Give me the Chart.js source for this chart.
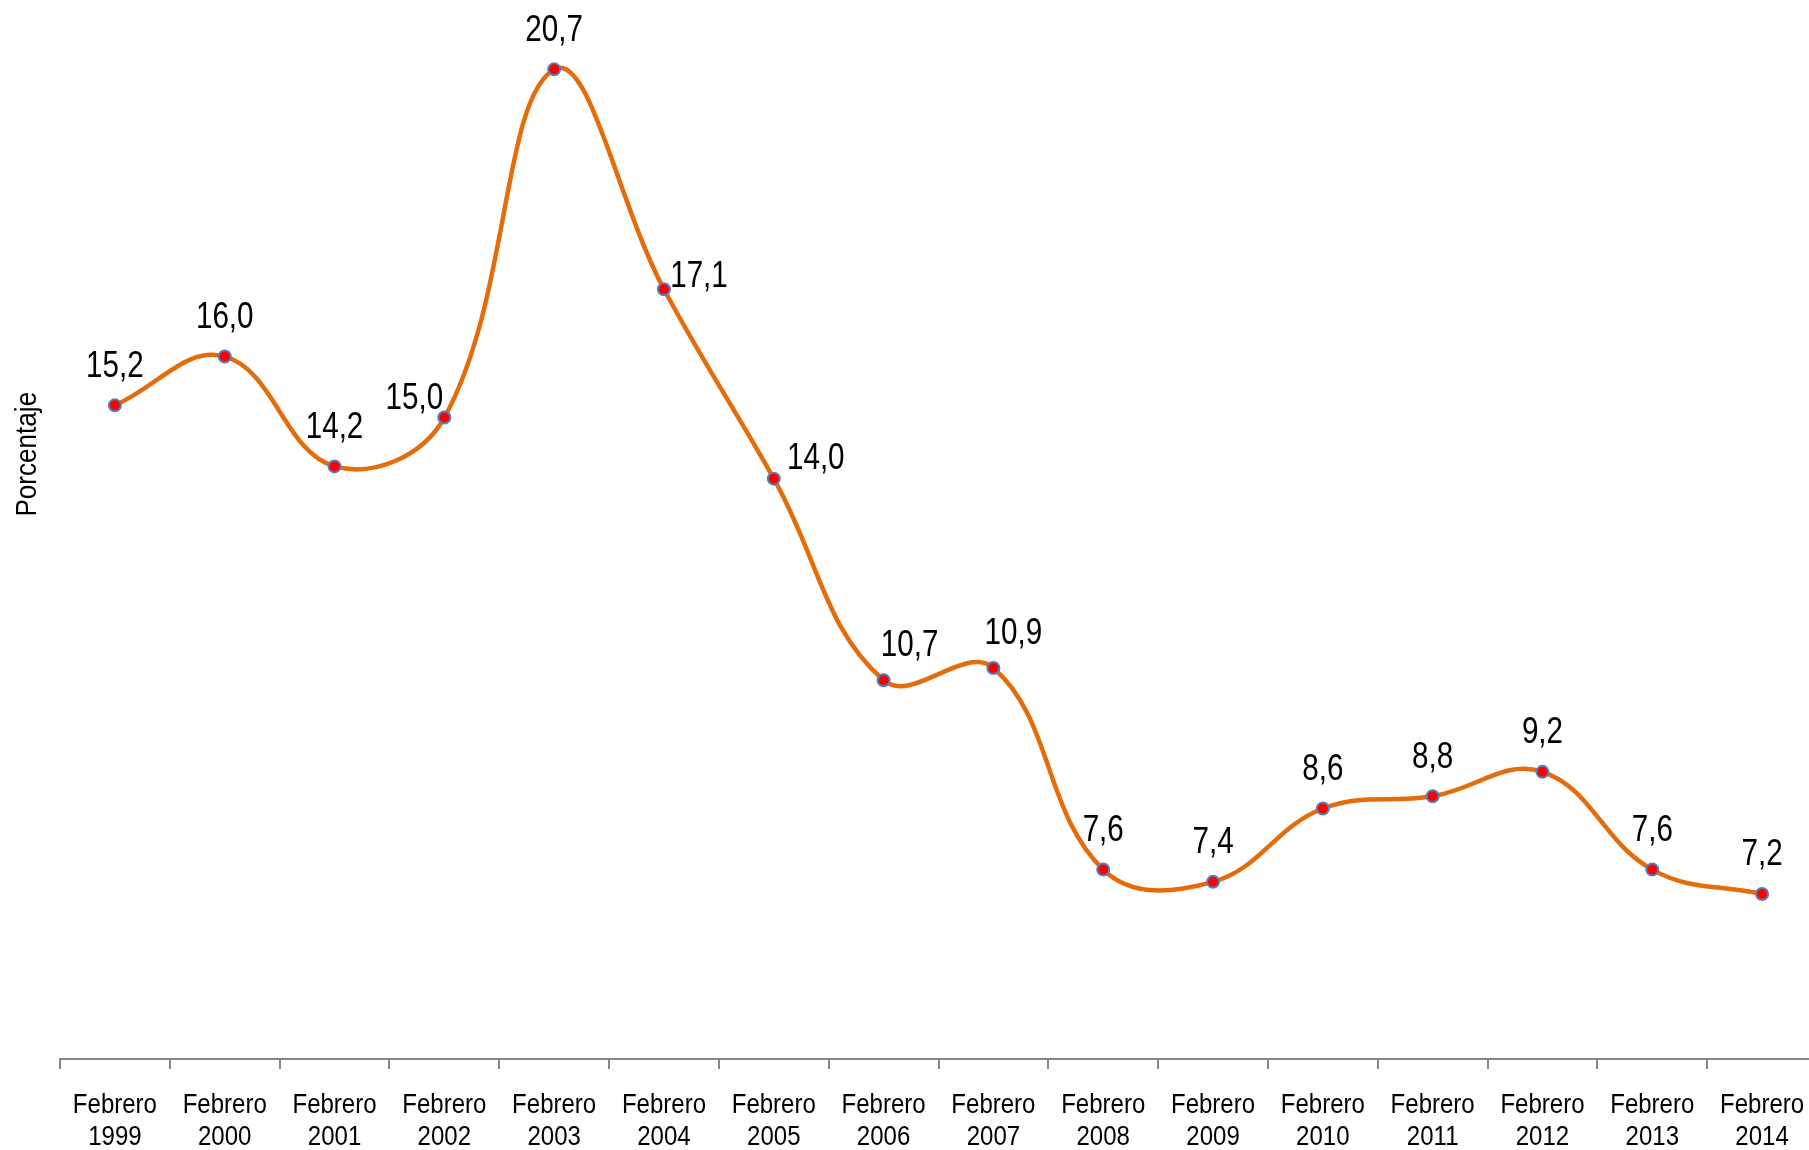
<!DOCTYPE html>
<html>
<head>
<meta charset="utf-8">
<title>Porcentaje Febrero 1999-2014</title>
<script src="https://cdn.jsdelivr.net/npm/chart.js@4"></script>
<style>
    body { margin: 0; background: #fff; }
    #wrap { width: 1809px; height: 1150px; overflow: hidden; }
</style>
</head>
<body>
<!-- plot runs a little past the right edge, like the original -->
<div id="wrap"><canvas id="lineChart" width="1817" height="1150"></canvas></div>
<script>
const years = ["1999", "2000", "2001", "2002", "2003", "2004", "2005", "2006",
               "2007", "2008", "2009", "2010", "2011", "2012", "2013", "2014"];
const categories = years.map(y => ["Febrero", y]);
const values = [15.2, 16.0, 14.2, 15.0, 20.7, 17.1, 14.0, 10.7,
                10.9, 7.6, 7.4, 8.6, 8.8, 9.2, 7.6, 7.2];

// where each value label sits relative to its point
const labelOffsets = [
    [0, -39], [0, -39], [0, -39], [-30, -19], [0, -39], [35, -12], [42, -20], [26, -34],
    [20, -34], [0, -39], [0, -39], [0, -39], [0, -39], [0, -39], [0, -39], [0, -39]
];

const FONT = "'Liberation Sans', Arial, sans-serif";

// narrow text: no condensed Arial here, so squeeze it horizontally
function drawNarrow(ctx, txt, x, y, size, squeeze) {
    ctx.save();
    ctx.translate(x, y);
    ctx.scale(squeeze, 1);
    ctx.font = size + "px " + FONT;
    ctx.fillText(txt, 0, 0);
    ctx.restore();
}

// Draw value labels with comma decimals
const valueLabels = {
    id: "valueLabels",
    afterDatasetsDraw(chart) {
        const ctx = chart.ctx;
        const meta = chart.getDatasetMeta(0);
        ctx.save();
        ctx.fillStyle = "#000";
        ctx.textAlign = "center";
        ctx.textBaseline = "middle";
        meta.data.forEach((pt, i) => {
            const txt = values[i].toFixed(1).replace(".", ",");
            const off = labelOffsets[i];
            drawNarrow(ctx, txt, pt.x + off[0], pt.y + off[1], 37, 0.8);
        });
        ctx.restore();
    }
};

// Category labels under the axis, two lines each
const xLabels = {
    id: "xLabels",
    afterDraw(chart) {
        const ctx = chart.ctx;
        const xs = chart.scales.x;
        ctx.save();
        ctx.fillStyle = "#000";
        ctx.textAlign = "center";
        ctx.textBaseline = "middle";
        categories.forEach((lines, i) => {
            const x = xs.getPixelForTick(i);
            lines.forEach((t, j) => {
                drawNarrow(ctx, t, x, xs.bottom + 37 + j * 32, 27, 0.89);
            });
        });
        ctx.restore();
    }
};

// Rotated axis title
const yTitle = {
    id: "yTitle",
    afterDraw(chart) {
        const ctx = chart.ctx;
        const area = chart.chartArea;
        ctx.save();
        ctx.translate(28, area.top + (area.bottom - area.top) * 0.4);
        ctx.rotate(-Math.PI / 2);
        ctx.fillStyle = "#000";
        ctx.textAlign = "center";
        ctx.textBaseline = "middle";
        drawNarrow(ctx, "Porcentaje", 0, 0, 29, 0.9);
        ctx.restore();
    }
};

const ctxLine = document.getElementById("lineChart").getContext("2d");
new Chart(ctxLine, {
    type: "line",
    data: {
        labels: categories,
        datasets: [{
            label: "Porcentaje",
            data: values,
            borderColor: "#E46C0A",
            borderWidth: 4.5,
            tension: 0.4,
            fill: false,
            pointRadius: 6,
            pointBackgroundColor: "#FF0000",
            pointBorderColor: "#4F81BD",
            pointBorderWidth: 2
        }]
    },
    options: {
        responsive: false,
        animation: false,
        devicePixelRatio: 1,
        layout: { autoPadding: false, padding: { left: 60, right: 0, top: 51, bottom: 81 } },
        plugins: {
            legend: { display: false },
            tooltip: { enabled: false }
        },
        scales: {
            x: {
                offset: true,
                grid: {
                    offset: true,
                    drawOnChartArea: false,
                    drawTicks: true,
                    tickLength: 10,
                    color: "#888",
                    lineWidth: 2
                },
                border: { color: "#888", width: 2 },
                ticks: { display: false, autoSkip: false }
            },
            y: {
                display: false,
                min: 4.5,
                max: 21
            }
        }
    },
    plugins: [valueLabels, xLabels, yTitle]
});
</script>
</body>
</html>
